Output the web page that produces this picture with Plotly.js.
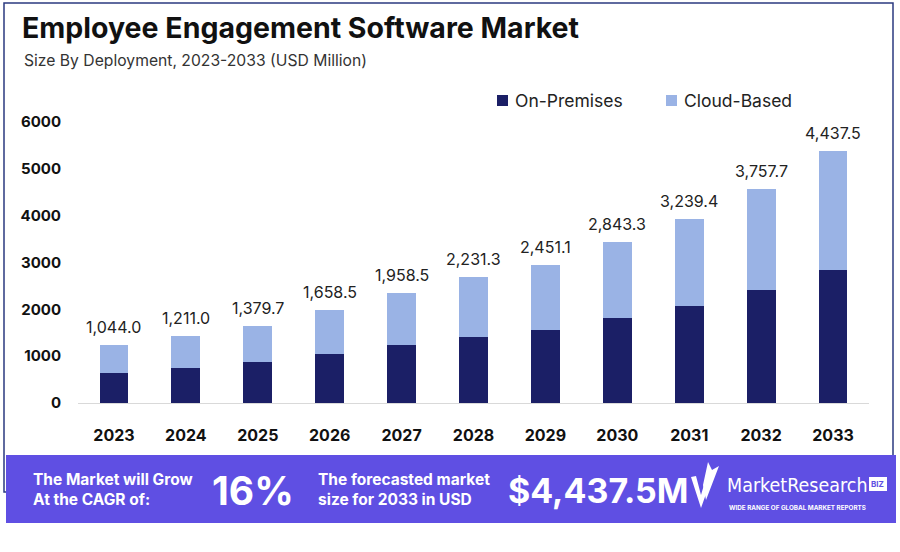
<!DOCTYPE html>
<html>
<head>
<meta charset="utf-8">
<script src="https://cdn.plot.ly/plotly-3.0.1.min.js"></script>
<style>html,body{margin:0;padding:0;background:#fff;}#chart{width:900px;height:552px;}</style>
</head>
<body>
<div id="chart"></div>
<script>
// ---- data ----
const years = ["2023","2024","2025","2026","2027","2028","2029","2030","2031","2032","2033"];
const onPremises = [647, 754, 870, 1047, 1239, 1417, 1560, 1810, 2073, 2415, 2848];
const cloudBased = [586, 678, 775, 934, 1118, 1282, 1395, 1630, 1859, 2151, 2543];
const totalLabels = ["1,044.0","1,211.0","1,379.7","1,658.5","1,958.5","2,231.3","2,451.1","2,843.3","3,239.4","3,757.7","4,437.5"];
const seriesNames = ["On-Premises", "Cloud-Based"];
const yTicks = [0, 1000, 2000, 3000, 4000, 5000, 6000];

// ---- style ----
const NAVY = "#1b1f66";
const LIGHT = "#9ab3e5";
const BANNER = "#5f4fe3";
const FONT = "Inter, 'Open Sans', sans-serif";

// pixel -> paper helpers (plot area: x 78..869, y 122..403)
const L = 78, R = 31, T = 122, B = 149;
const PW = 900 - L - R, PH = 552 - T - B;
const px = x => (x - L) / PW;
const py = y => (552 - B - y) / PH;

const traces = [
  {type: "bar", x: years, y: onPremises, name: seriesNames[0], marker: {color: NAVY}, hoverinfo: "skip"},
  {type: "bar", x: years, y: cloudBased, name: seriesNames[1], marker: {color: LIGHT}, hoverinfo: "skip"}
];

const annotations = [];
years.forEach((yr, i) => {
  annotations.push({
    x: i, y: onPremises[i] + cloudBased[i], xref: "x", yref: "y",
    text: totalLabels[i], showarrow: false, yanchor: "bottom", yshift: 6,
    font: {family: FONT, size: 16, color: "#222"}
  });
});

// subtitle
annotations.push({xref: "paper", yref: "paper", x: px(22), y: py(61), xanchor: "left", yanchor: "middle",
  text: "Size By Deployment, 2023-2033 (USD Million)", showarrow: false,
  font: {family: FONT, size: 15.7, color: "#333"}});

// custom legend
const legendX = [497, 666];
const shapes = [];
seriesNames.forEach((n, i) => {
  shapes.push({type: "rect", xref: "paper", yref: "paper", x0: px(legendX[i]), x1: px(legendX[i] + 11),
    y0: py(106), y1: py(95), fillcolor: i === 0 ? NAVY : LIGHT, line: {width: 0}});
  annotations.push({xref: "paper", yref: "paper", x: px(legendX[i] + 16), y: py(100.5), xanchor: "left", yanchor: "middle",
    text: n, showarrow: false, font: {family: FONT, size: 17.5, color: "#222"}});
});

// frame
shapes.push({type: "rect", xref: "paper", yref: "paper", layer: "below",
  x0: px(4), x1: px(893), y0: py(492), y1: py(3), line: {color: "#2b3a80", width: 1.5}, fillcolor: "rgba(0,0,0,0)"});
// banner
shapes.push({type: "rect", xref: "paper", yref: "paper", layer: "above",
  x0: px(6), x1: px(896), y0: py(523), y1: py(455), line: {width: 0}, fillcolor: BANNER});
// logo check mark
const lx = x => px(x), ly = y => py(y);
shapes.push({type: "path", xref: "paper", yref: "paper", layer: "above",
  path: `M ${lx(691)},${ly(477)} L ${lx(701)},${ly(508)} L ${lx(711)},${ly(480)} L ${lx(706)},${ly(478)} L ${lx(701)},${ly(495)} L ${lx(696)},${ly(476)} Z`,
  fillcolor: "white", line: {width: 0}});
shapes.push({type: "path", xref: "paper", yref: "paper", layer: "above",
  path: `M ${lx(703)},${ly(485)} L ${lx(708)},${ly(462)} L ${lx(712)},${ly(470)} L ${lx(719)},${ly(466)} L ${lx(706)},${ly(500)} Z`,
  fillcolor: "white", line: {width: 0}});
// BIZ box
shapes.push({type: "rect", xref: "paper", yref: "paper", layer: "above",
  x0: px(869), x1: px(887), y0: py(491), y1: py(477), fillcolor: "white", line: {width: 0}});

const white = (size, bold) => ({family: FONT, size: size, color: "white", weight: bold ? 700 : 400});
annotations.push({xref: "paper", yref: "paper", x: px(31), y: py(489), xanchor: "left", yanchor: "middle", align: "left",
  text: "<b>The Market will Grow<br>At the CAGR of:</b>", showarrow: false, font: white(15.5, true)});
annotations.push({xref: "paper", yref: "paper", x: px(253), y: py(490), xanchor: "center", yanchor: "middle",
  text: "<b>16%</b>", showarrow: false, font: white(39, true)});
annotations.push({xref: "paper", yref: "paper", x: px(316), y: py(489), xanchor: "left", yanchor: "middle", align: "left",
  text: "<b>The forecasted market<br>size for 2033 in USD</b>", showarrow: false, font: white(15.5, true)});
annotations.push({xref: "paper", yref: "paper", x: px(598), y: py(490), xanchor: "center", yanchor: "middle",
  text: "<b>$4,437.5M</b>", showarrow: false, font: white(34, true)});
annotations.push({xref: "paper", yref: "paper", x: px(725), y: py(485), xanchor: "left", yanchor: "middle",
  text: "MarketResearch", showarrow: false,
  font: {family: "'DejaVu Sans Condensed', 'Liberation Sans Narrow', sans-serif", size: 19.5, color: "white", stretch: "condensed"}});
annotations.push({xref: "paper", yref: "paper", x: px(878), y: py(484), xanchor: "center", yanchor: "middle",
  text: "<b>BIZ</b>", showarrow: false, font: {family: FONT, size: 8, color: BANNER}});
annotations.push({xref: "paper", yref: "paper", x: px(727), y: py(508), xanchor: "left", yanchor: "middle",
  text: "<b>WIDE RANGE OF GLOBAL MARKET REPORTS</b>", showarrow: false, font: {family: FONT, size: 6.3, color: "white"}});

const layout = {
  width: 900, height: 552,
  margin: {l: L, r: R, t: T, b: B, pad: 0},
  paper_bgcolor: "white", plot_bgcolor: "white",
  barmode: "stack", bargap: 0.6,
  showlegend: false,
  title: {text: "<b>Employee Engagement Software Market</b>", x: 22/900, xanchor: "left", xref: "container",
    y: 1 - 28/552, yanchor: "middle", yref: "container",
    font: {family: FONT, size: 28.5, color: "#111", weight: 700}},
  xaxis: {type: "category", range: [-0.5, 10.5], showgrid: false, zeroline: false,
    showline: true, linecolor: "#d9d9d9", linewidth: 1, ticks: "", ticklabelstandoff: 18,
    tickfont: {family: FONT, size: 16, color: "#111", weight: 700}, fixedrange: true},
  yaxis: {range: [0, 6000], tickvals: yTicks, tickformat: "d", showgrid: false, zeroline: false,
    showline: false, ticks: "", ticklabelstandoff: 16,
    tickfont: {family: FONT, size: 15, color: "#111", weight: 700}, fixedrange: true},
  shapes: shapes,
  annotations: annotations
};

Plotly.newPlot("chart", traces, layout, {displayModeBar: false, staticPlot: true});
</script>
</body>
</html>
